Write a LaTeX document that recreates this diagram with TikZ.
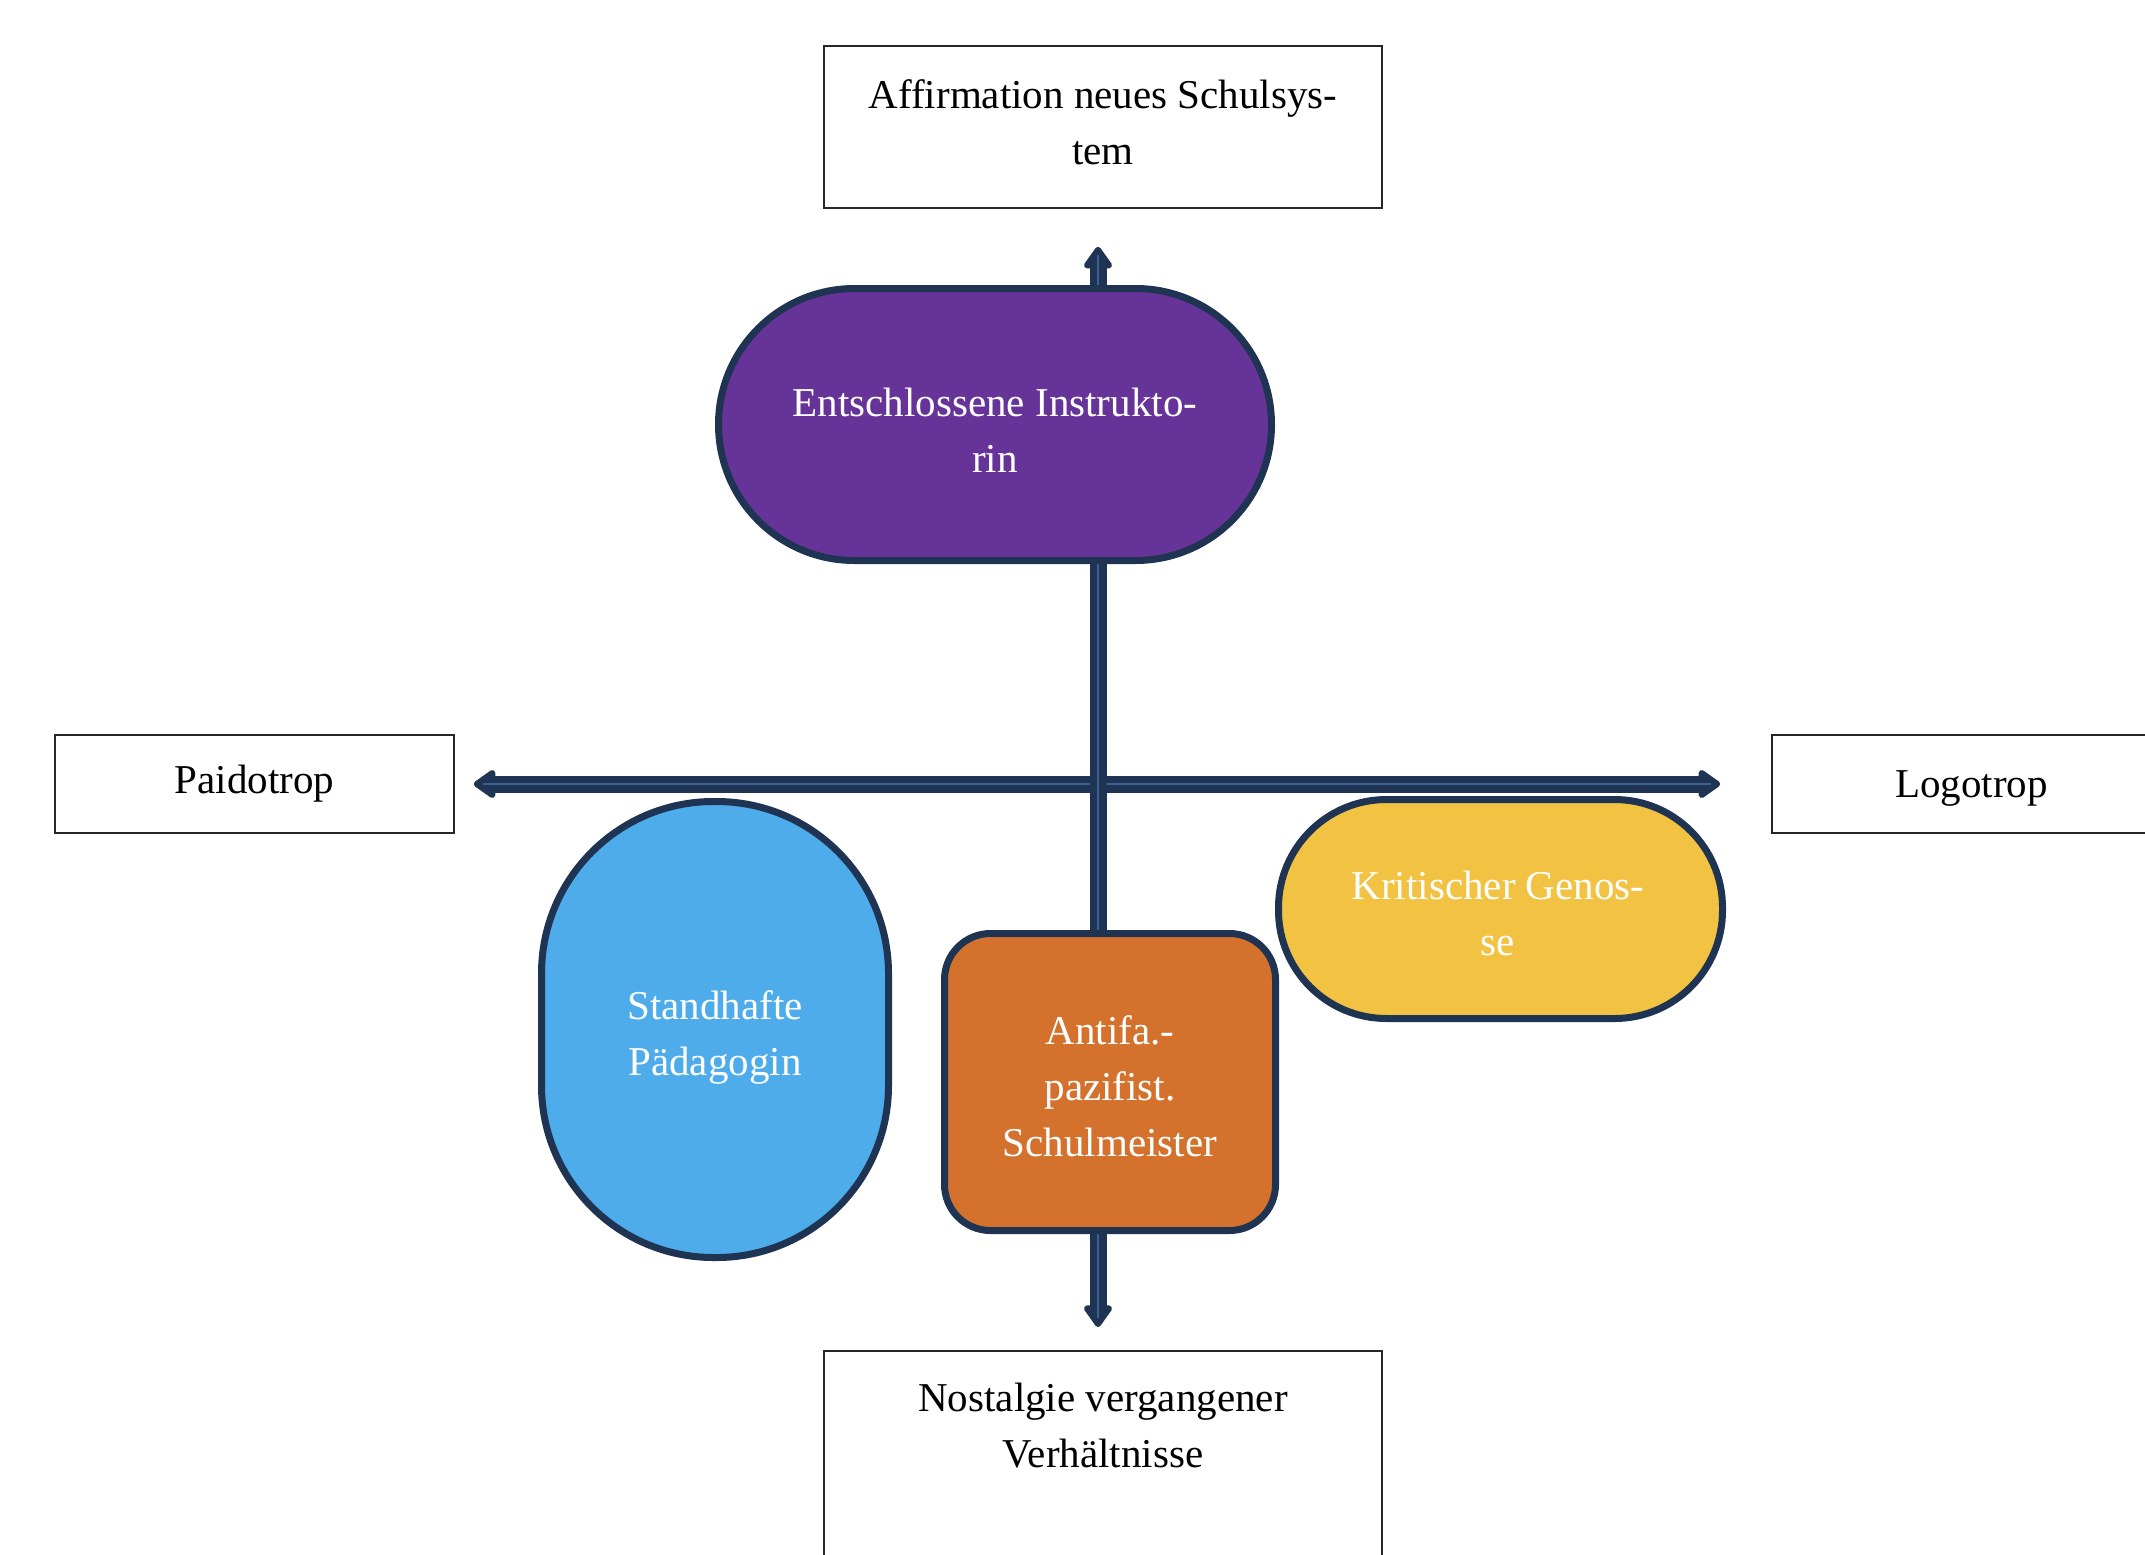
\documentclass[tikz,border=0pt]{standalone}
\usepackage{fontspec}
\setmainfont{Liberation Serif}
\usetikzlibrary{arrows.meta}
\definecolor{navy}{HTML}{1F3452}
\definecolor{stripe}{HTML}{3A5F92}
\definecolor{cpurple}{HTML}{663399}
\definecolor{cblue}{HTML}{4DACE9}
\definecolor{corange}{HTML}{D4722D}
\definecolor{cyellow}{HTML}{F2C242}
\begin{document}
\begin{tikzpicture}[x=0.5pt,y=-0.5pt,
  every node/.style={font=\fontsize{20.5pt}{28pt}\selectfont, align=center, inner sep=0pt},
  whitebox/.style={draw=black!85, line width=0.8pt, fill=white},
  shapebox/.style={draw=navy, line width=3.5pt, text=white},
  inlabel/.style={text=white},
  axisline/.style={navy, line width=8.5pt, line join=round,
    {Triangle[width=16pt,length=12pt,round]}-{Triangle[width=16pt,length=12pt,round]}},
  stripeline/.style={stripe, line width=0.8pt}
]
\useasboundingbox (0,0) rectangle (2145,1554);
\fill[white] (0,0) rectangle (2145,1554);

% white boxes
\node[whitebox, minimum width=279pt, minimum height=81pt] (top) at (1103,127) {};
\node (toptxt) at (1103,122) {Affirmation neues Schulsys-\\tem};
\node[whitebox, minimum width=279pt, minimum height=150pt, anchor=north] (bot) at (1103,1350) {};
\node (bottxt) at (1103,1426) {Nostalgie vergangener\\Verhältnisse};
\node[whitebox, minimum width=199.5pt, minimum height=49pt] (paido) at (254.5,784) {Paidotrop};
\node[whitebox, minimum width=199.5pt, minimum height=49pt] (logo) at (1971.5,784) {};
\node (logotxt) at (1971.5,788) {Logotrop};

% axes
\draw[axisline, shorten <=9.5pt, shorten >=25.5pt] (paido.east) -- (logo.west);
\draw[stripeline, shorten <=14pt, shorten >=30pt] (paido.east) -- (logo.west);
\draw[axisline, shorten <=19pt, shorten >=11.5pt] ([xshift=-2.5pt]top.south) -- ([xshift=-2.5pt]bot.north);
\draw[stripeline, shorten <=23pt, shorten >=16pt] ([xshift=-2.5pt]top.south) -- ([xshift=-2.5pt]bot.north);

% coloured shapes
\node[shapebox, fill=cpurple, minimum width=276.5pt, minimum height=136pt, rounded corners=68pt] (instr) at (995,424.5) {};
\node[inlabel] (instrtxt) at (995,430) {Entschlossene Instrukto-\\rin};
\node[shapebox, fill=cblue, minimum width=173.5pt, minimum height=228pt, rounded corners=86pt] (paed) at (715,1029.5) {};
\node[inlabel] (paedtxt) at (715,1037) {Standhafte\\Pädagogin};
\node[shapebox, fill=corange, minimum width=165.5pt, minimum height=148.5pt, rounded corners=23pt] (schul) at (1110,1082) {};
\node[inlabel] (schultxt) at (1110,1086) {Antifa.-\\pazifist.\\Schulmeister};
\node[shapebox, fill=cyellow, minimum width=222pt, minimum height=109.5pt, rounded corners=54pt] (genosse) at (1500.5,909) {};
\node[inlabel] (genossetxt) at (1498,913) {Kritischer Genos-\\se};
\end{tikzpicture}
\end{document}
